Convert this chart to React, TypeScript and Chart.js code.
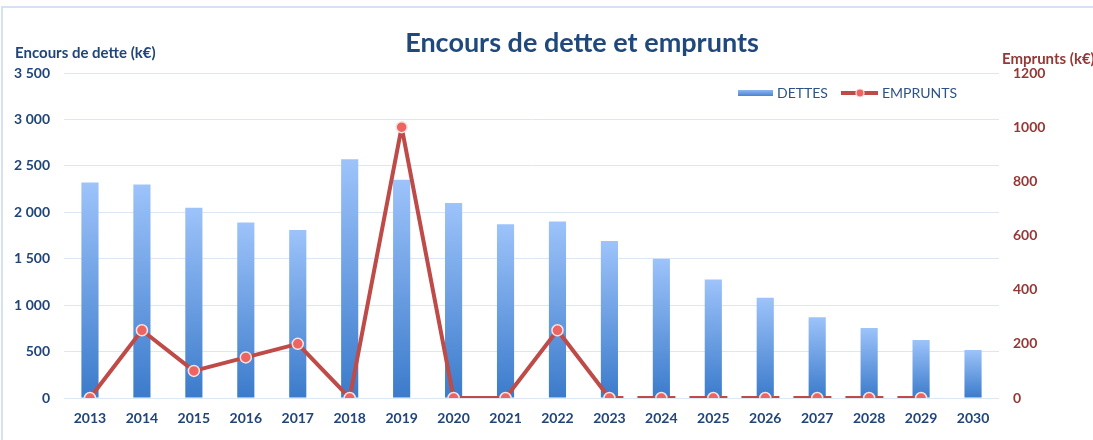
import React, { useEffect, useRef } from 'react';
import { Chart, registerables } from 'chart.js';

Chart.register(...registerables);

const years = ['2013', '2014', '2015', '2016', '2017', '2018', '2019', '2020', '2021', '2022', '2023', '2024', '2025', '2026', '2027', '2028', '2029', '2030'];
const dettes = [2320, 2300, 2050, 1890, 1810, 2570, 2350, 2100, 1870, 1900, 1690, 1500, 1275, 1080, 870, 755, 625, 517];
const emprunts: (number | null)[] = [0, 250, 100, 150, 200, 0, 1000, 0, 0, 250, 0, 0, 0, 0, 0, 0, 0, null];
const dashedFromIndex = 10;

const titleText = 'Encours de dette et emprunts';
const leftAxisTitle = 'Encours de dette (k€)';
const rightAxisTitle = 'Emprunts (k€)';
const legendDettes = 'DETTES';
const legendEmprunts = 'EMPRUNTS';

const leftMax = 3500;
const leftStep = 500;
const rightMax = 1200;
const rightStep = 200;

const FONT = 'Lato, "Open Sans", sans-serif';
const BLUE_TEXT = '#21457A';
const RED_TEXT = '#953735';
const LINE_RED = '#BE4B48';

function fmtThousands(v: number): string {
  if (v >= 1000) {
    const k = Math.floor(v / 1000);
    const r = String(v % 1000).padStart(3, '0');
    return `${k} ${r}`;
  }
  return String(v);
}

const overlayPlugin = {
  id: 'overlay',
  afterDraw(chart: any) {
    const ctx: CanvasRenderingContext2D = chart.ctx;
    ctx.save();
    // title
    ctx.fillStyle = '#1F497D';
    ctx.font = `bold 27px ${FONT}`;
    ctx.textAlign = 'center';
    ctx.textBaseline = 'alphabetic';
    ctx.fillText(titleText, 582, 52);
    // axis titles
    ctx.font = `bold 15px ${FONT}`;
    ctx.textAlign = 'left';
    ctx.fillStyle = BLUE_TEXT;
    ctx.fillText(leftAxisTitle, 15, 58);
    ctx.fillStyle = RED_TEXT;
    ctx.fillText(rightAxisTitle, 1002, 64);
    // legend
    const ly = 93;
    const g = ctx.createLinearGradient(0, ly - 3, 0, ly + 3);
    g.addColorStop(0, '#8DB6F2');
    g.addColorStop(1, '#4A84D0');
    ctx.fillStyle = g;
    ctx.fillRect(738, ly - 3, 35, 6);
    ctx.font = `14px ${FONT}`;
    ctx.fillStyle = '#2E5287';
    ctx.textBaseline = 'alphabetic';
    ctx.fillText(legendDettes, 777, 98);
    ctx.strokeStyle = LINE_RED;
    ctx.lineWidth = 4;
    ctx.beginPath();
    ctx.moveTo(841, ly);
    ctx.lineTo(878, ly);
    ctx.stroke();
    ctx.beginPath();
    ctx.arc(860, ly, 4, 0, Math.PI * 2);
    ctx.fillStyle = '#EE6461';
    ctx.fill();
    ctx.lineWidth = 1.2;
    ctx.strokeStyle = '#F4E4E4';
    ctx.stroke();
    ctx.fillStyle = '#2E5287';
    ctx.fillText(legendEmprunts, 882, 98);
    ctx.restore();
  },
};

export default function App() {
  const canvasRef = useRef<HTMLCanvasElement | null>(null);

  useEffect(() => {
    if (!canvasRef.current) return;
    const chart = new Chart(canvasRef.current, {
      type: 'bar',
      data: {
        labels: years,
        datasets: [
          {
            type: 'line',
            label: legendEmprunts,
            data: emprunts,
            yAxisID: 'y1',
            order: 0,
            borderColor: LINE_RED,
            borderWidth: 4,
            borderJoinStyle: 'round',
            borderCapStyle: 'butt',
            pointRadius: 5.5,
            pointBackgroundColor: '#EE6461',
            pointBorderColor: '#F4E4E4',
            pointBorderWidth: 1.5,
            tension: 0,
            spanGaps: false,
            segment: {
              borderDash: (c: any) => (c.p0DataIndex >= dashedFromIndex ? [38, 14] : undefined),
              borderDashOffset: (c: any) => (c.p0DataIndex >= dashedFromIndex ? 24 : undefined),
            },
          } as any,
          {
            type: 'bar',
            label: legendDettes,
            data: dettes,
            yAxisID: 'y',
            order: 1,
            categoryPercentage: 1,
            barPercentage: 0.33,
            backgroundColor: (c: any) => {
              const ch = c.chart;
              if (!ch.chartArea || c.type !== 'data') return '#6A9BE0';
              const ys = ch.scales.y;
              const top = ys.getPixelForValue(c.raw as number);
              const bottom = ys.getPixelForValue(0);
              const gr = ch.ctx.createLinearGradient(0, top, 0, bottom);
              gr.addColorStop(0, '#9DC3FA');
              gr.addColorStop(1, '#3B7BCB');
              return gr;
            },
          } as any,
        ],
      },
      options: {
        animation: false,
        responsive: true,
        maintainAspectRatio: false,
        layout: { padding: { top: 73, left: 0, right: 0, bottom: 0 } },
        plugins: {
          legend: { display: false },
          title: { display: false },
          tooltip: { enabled: false },
        },
        scales: {
          x: {
            grid: { display: false, drawTicks: false },
            border: { display: false },
            ticks: {
              color: BLUE_TEXT,
              font: { family: FONT, weight: 'bold', size: 14 },
              padding: 12,
              maxRotation: 0,
              autoSkip: false,
            },
            afterFit: (s: any) => {
              s.height = 42;
            },
          },
          y: {
            position: 'left',
            min: 0,
            max: leftMax,
            ticks: {
              stepSize: leftStep,
              padding: 14,
              color: BLUE_TEXT,
              font: { family: FONT, weight: 'bold', size: 14 },
              callback: (v: any) => fmtThousands(Number(v)),
            },
            grid: { color: '#DDE7F3', drawTicks: false, lineWidth: 1 },
            border: { display: false },
            afterFit: (s: any) => {
              s.width = 64;
            },
          },
          y1: {
            position: 'right',
            min: 0,
            max: rightMax,
            ticks: {
              stepSize: rightStep,
              padding: 14,
              color: RED_TEXT,
              font: { family: FONT, weight: 'bold', size: 14 },
              callback: (v: any) => String(v),
            },
            grid: { display: false, drawTicks: false },
            border: { display: false },
            afterFit: (s: any) => {
              s.width = 94;
            },
          },
        },
      } as any,
      plugins: [overlayPlugin],
    });
    return () => chart.destroy();
  }, []);

  return (
    <div style={{ position: 'fixed', left: 0, top: 0, width: 1093, height: 440, background: '#fff' }}>
      <div
        style={{
          position: 'absolute',
          left: 1,
          top: 6,
          right: -20,
          bottom: -20,
          borderTop: '2px solid #D6E2F1',
          borderLeft: '2px solid #D6E2F1',
        }}
      />
      <div style={{ position: 'absolute', left: 0, top: 0, width: 1093, height: 440 }}>
        <canvas ref={canvasRef} />
      </div>
    </div>
  );
}
